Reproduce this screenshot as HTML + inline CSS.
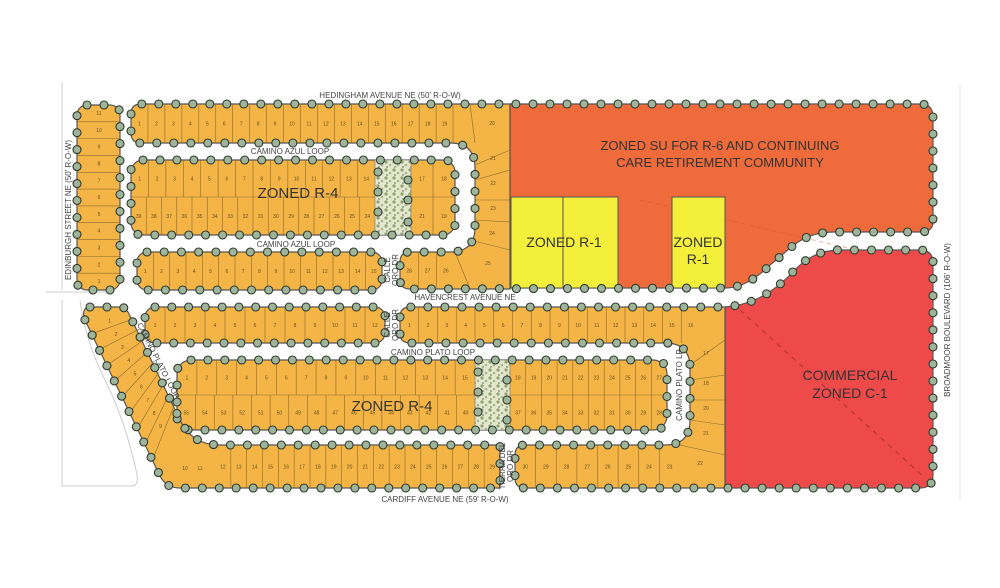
<!DOCTYPE html>
<html><head><meta charset="utf-8">
<style>
html,body{margin:0;padding:0;background:#fff;width:1000px;height:588px;overflow:hidden}
svg{display:block}
text{font-family:"Liberation Sans",sans-serif;fill:#3a3a3a}
.blk{fill:#f4b446;stroke:#555;stroke-width:1.2}
.ln{stroke:#8a6a30;stroke-width:0.6;fill:none}
.n{font-size:5px;fill:#6a5020;text-anchor:middle}
.lab{font-size:8px;text-anchor:middle;fill:#444}
.big{font-size:14px;text-anchor:middle;fill:#333}
.dp{fill:none;stroke:none}
.dot{fill:#9fb59b;stroke:#2e3a2e;stroke-width:1.1}
</style></head><body>
<svg id="s" width="1000" height="588" viewBox="0 0 1000 588" xmlns="http://www.w3.org/2000/svg">
<defs>
<pattern id="tree" width="8" height="8" patternUnits="userSpaceOnUse">
<rect width="8" height="8" fill="#e4e6cf"/>
<circle cx="2" cy="2" r="1.6" fill="#8fa56f"/>
<circle cx="6" cy="5" r="1.3" fill="#a9b98a"/>
<circle cx="3" cy="7" r="0.9" fill="#6f8a58"/>
</pattern>
</defs>
<g stroke="#ccc" stroke-width="1" fill="none">
<line x1="62" y1="82" x2="62" y2="290"/>
<path d="M46,292 L110,292"/>
<path d="M62,300 L62,486 L132,486 Q140,486 136,470 Q125,420 105,380 Q85,340 80,300"/>
<line x1="960" y1="85" x2="960" y2="500" stroke="#e6e6e6"/>
</g>

<path d="M510,104 L920,104 Q933,104 933,117 L933,222 Q933,232 920,232 L835,232 C800,232 790,250 770,265 C755,280 740,288 725,288 L510,288 Z" fill="#ef6b3b" stroke="#555" stroke-width="1.2"/>
<path d="M640,200 L900,260" stroke="#d85a30" stroke-dasharray="4,4" stroke-width="1" fill="none" opacity="0.5"/>
<rect x="511" y="197" width="107" height="91" fill="#f4ef3a" stroke="#555" stroke-width="1"/>
<line x1="563" y1="197" x2="563" y2="288" stroke="#555" stroke-width="1"/>
<rect x="672" y="197" width="53" height="91" fill="#f4ef3a" stroke="#555" stroke-width="1"/>
<path d="M725,307 C750,305 770,295 790,275 C805,258 820,250 840,250 L920,250 Q933,250 933,263 L933,475 Q933,488 920,488 L725,488 Z" fill="#ef4a4a" stroke="#555" stroke-width="1.2"/>
<line x1="740" y1="310" x2="925" y2="478" stroke="#b83838" stroke-width="1.3" stroke-dasharray="5,5"/>

<rect class="blk" x="77" y="105" width="43" height="185" rx="10"/>
<path class="blk" d="M131,114 Q131,104 141,104 L510,104 L510,289 L410,289 Q400,289 400,279 L400,262 Q400,252 410,252 L450,252 Q475,252 475,227 L475,168 Q475,143 450,143 L141,143 Q131,143 131,133 Z"/>
<rect class="blk" x="131" y="160" width="324" height="75" rx="12"/>
<rect x="375" y="160" width="36" height="75" fill="url(#tree)" stroke="#777" stroke-width="0.6"/>
<rect class="blk" x="137" y="252" width="245" height="38" rx="10"/>
<rect class="blk" x="145" y="307" width="240" height="36" rx="10"/>
<path class="blk" d="M400,317 Q400,307 410,307 L725,307 L725,488 L525,488 Q515,488 515,478 L515,455 Q515,445 525,445 L665,445 Q690,445 690,420 L690,368 Q690,343 665,343 L410,343 Q400,343 400,333 Z"/>
<rect class="blk" x="177" y="360" width="490" height="70" rx="14"/>
<rect x="475" y="360" width="35" height="70" fill="url(#tree)" stroke="#777" stroke-width="0.6"/>
<path class="blk" d="M90,307 L120,307 Q126,307 129,314 L180,420 Q192,445 220,445 L500,445 L500,488 L180,488 Q166,488 160,476 L84,318 Q82,307 90,307 Z"/>
<g id="lots"></g>

<path class="dp dc" d="M87,105 L110,105 Q120,105 120,115 L120,280 Q120,290 110,290 L87,290 Q77,290 77,280 L77,115 Q77,105 87,105 Z"/>
<path class="dp dc" d="M131,114 Q131,104 141,104 L920,104 Q933,104 933,117 L933,222 Q933,232 920,232 L835,232 C800,232 790,250 770,265 C755,280 740,288 725,288 L410,289 Q400,289 400,279 L400,262 Q400,252 410,252 L450,252 Q475,252 475,227 L475,168 Q475,143 450,143 L141,143 Q131,143 131,133 Z"/>
<path class="dp dc" d="M143,160 L443,160 Q455,160 455,172 L455,223 Q455,235 443,235 L143,235 Q131,235 131,223 L131,172 Q131,160 143,160 Z"/>
<path class="dp dc" d="M147,252 L372,252 Q382,252 382,262 L382,280 Q382,290 372,290 L147,290 Q137,290 137,280 L137,262 Q137,252 147,252 Z"/>
<path class="dp dc" d="M155,307 L375,307 Q385,307 385,317 L385,333 Q385,343 375,343 L155,343 Q145,343 145,333 L145,317 Q145,307 155,307 Z"/>
<path class="dp dc" d="M400,317 Q400,307 410,307 L725,307 C750,305 770,295 790,275 C805,258 820,250 840,250 L920,250 Q933,250 933,263 L933,475 Q933,488 920,488 L525,488 Q515,488 515,478 L515,455 Q515,445 525,445 L665,445 Q690,445 690,420 L690,368 Q690,343 665,343 L410,343 Q400,343 400,333 Z"/>
<path class="dp dc" d="M191,360 L653,360 Q667,360 667,374 L667,416 Q667,430 653,430 L191,430 Q177,430 177,416 L177,374 Q177,360 191,360 Z"/>
<path class="dp dc" d="M90,307 L120,307 Q126,307 129,314 L180,420 Q192,445 220,445 L500,445 L500,488 L180,488 Q166,488 160,476 L84,318 Q82,307 90,307 Z"/>
<path class="dp dc2" d="M378,170 L378,230 M408,170 L408,230 M478,370 L478,425 M507,370 L507,425"/>
<g id="dots"></g>

<text class="lab" x="390" y="98">HEDINGHAM AVENUE NE (50' R-O-W)</text>
<text class="lab" x="290" y="154">CAMINO AZUL LOOP</text>
<text class="lab" x="296" y="247">CAMINO AZUL LOOP</text>
<text class="big" x="298" y="198" style="font-size:15px">ZONED R-4</text>
<text class="big" x="392" y="411" style="font-size:15px">ZONED R-4</text>
<text class="lab" transform="translate(71,210) rotate(-90)">EDINBURGH STREET NE (50' R-O-W)</text>
<text class="lab" transform="translate(390,270) rotate(-90)">CALLE</text>
<text class="lab" transform="translate(398,270) rotate(-90)">ORO DR</text>
<text class="lab" transform="translate(390,325) rotate(-90)">CALLE</text>
<text class="lab" transform="translate(398,325) rotate(-90)">ORO DR</text>
<text class="lab" x="465" y="300">HAVENCREST AVENUE NE</text>
<text class="lab" x="433" y="355">CAMINO PLATO LOOP</text>
<text class="lab" transform="translate(156,362) rotate(63)">CAMINO PLATO LOOP</text>
<text class="lab" transform="translate(682,385) rotate(-90)">CAMINO PLATO LP</text>
<text class="lab" transform="translate(505,466) rotate(-90)">TIERRA DEL</text>
<text class="lab" transform="translate(513,466) rotate(-90)">ORO DR</text>
<text class="lab" x="445" y="502">CARDIFF AVENUE NE (59' R-O-W)</text>
<text class="lab" transform="translate(950,320) rotate(-90)">BROADMOOR BOULEVARD (106' R-O-W)</text>
<text class="big" x="720" y="150" style="font-size:13px">ZONED SU FOR R-6 AND CONTINUING</text>
<text class="big" x="720" y="167" style="font-size:13px">CARE RETIREMENT COMMUNITY</text>
<text class="big" x="564" y="247">ZONED R-1</text>
<text class="big" x="698" y="247">ZONED</text>
<text class="big" x="698" y="264">R-1</text>
<text class="big" x="850" y="380">COMMERCIAL</text>
<text class="big" x="850" y="398">ZONED C-1</text>
</svg>
<script>
(function(){
var NS="http://www.w3.org/2000/svg";
var L=document.getElementById("lots"),D=document.getElementById("dots");
function el(t,a,p,txt){var e=document.createElementNS(NS,t);for(var k in a)e.setAttribute(k,a[k]);if(txt!=null)e.textContent=txt;(p||L).appendChild(e);return e;}
function row(x0,x1,y0,y1,labels){var n=labels.length,w=(x1-x0)/n;for(var i=0;i<n;i++){var x=x0+i*w;if(i>0)el("line",{x1:x,y1:y0,x2:x,y2:y1,"class":"ln"});el("text",{x:x+w/2,y:(y0+y1)/2+2,"class":"n"},null,labels[i]);}}
function seq(a,b){var r=[];if(a<=b)for(var i=a;i<=b;i++)r.push(i);else for(var i=a;i>=b;i--)r.push(i);return r;}
row(131,470,104,143,seq(1,19).concat([""]));
row(131,375,160,197,seq(1,14));row(411,455,160,197,[17,18]);
row(131,375,197,235,seq(39,24));row(411,455,197,235,[21,19]);
el("line",{x1:131,y1:197,x2:375,y2:197,"class":"ln"});el("line",{x1:411,y1:197,x2:455,y2:197,"class":"ln"});
row(137,382,252,290,seq(1,15));
row(400,455,252,289,[28,27,26]);
var w=[[475,165,510,150],[475,180,510,170],[475,200,510,200],[475,220,510,222],[470,240,510,250],[455,252,470,289]];
w.forEach(function(a){el("line",{x1:a[0],y1:a[1],x2:a[2],y2:a[3],"class":"ln"});});
el("line",{x1:470,y1:104,x2:475,y2:143,"class":"ln"});
[[492,125,20],[493,160,21],[493,185,22],[493,210,23],[492,235,24],[488,265,25]].forEach(function(a){el("text",{x:a[0],y:a[1],"class":"n"},null,a[2]);});
for(var i=0;i<11;i++){var y=105+i*185/11;if(i>0)el("line",{x1:77,y1:y,x2:120,y2:y,"class":"ln"});el("text",{x:99,y:y+10,"class":"n"},null,11-i);}
row(145,385,307,343,seq(1,12));
row(400,700,307,343,seq(1,16));
row(177,475,360,395,seq(1,15));row(510,667,360,395,seq(18,27));
row(177,475,395,430,seq(55,40));row(510,667,395,430,seq(37,28));
el("line",{x1:177,y1:395,x2:475,y2:395,"class":"ln"});el("line",{x1:510,y1:395,x2:667,y2:395,"class":"ln"});
row(215,500,445,488,seq(12,29));
row(515,680,445,488,seq(30,23));
[[690,365,725,340],[690,380,725,375],[690,400,725,400],[690,420,725,425],[680,445,725,455]].forEach(function(a){el("line",{x1:a[0],y1:a[1],x2:a[2],y2:a[3],"class":"ln"});});
[[706,355,17],[706,385,18],[706,410,20],[706,435,21],[700,465,22]].forEach(function(a){el("text",{x:a[0],y:a[1],"class":"n"},null,a[2]);});
for(var i=1;i<=9;i++){var t=i/10;var xa=84+t*76,ya=318+t*158,xb=129+t*51,yb=314+t*106;el("line",{x1:xa,y1:ya,x2:xb,y2:yb-6,"class":"ln"});}
for(var i=0;i<9;i++){var t=(i+0.5)/10;el("text",{x:(84+t*76+129+t*51)/2,y:(318+t*158+314+t*106)/2,"class":"n"},null,i+1);}
el("text",{x:185,y:470,"class":"n"},null,10);el("text",{x:200,y:470,"class":"n"},null,11);
var ps=document.querySelectorAll(".dc");
for(var j=0;j<ps.length;j++){var p=ps[j],len=p.getTotalLength(),n=Math.round(len/17);
for(var k=0;k<n;k++){var pt=p.getPointAtLength(k*len/n);el("circle",{cx:pt.x.toFixed(1),cy:pt.y.toFixed(1),r:4,"class":"dot"},D);}}
var q=[[378,172],[378,192],[378,212],[408,180],[408,200],[408,222],[478,372],[478,392],[478,412],[507,380],[507,400],[507,420]];
q.forEach(function(a){el("circle",{cx:a[0],cy:a[1],r:4,"class":"dot"},D);});
})();
</script>
</body></html>
